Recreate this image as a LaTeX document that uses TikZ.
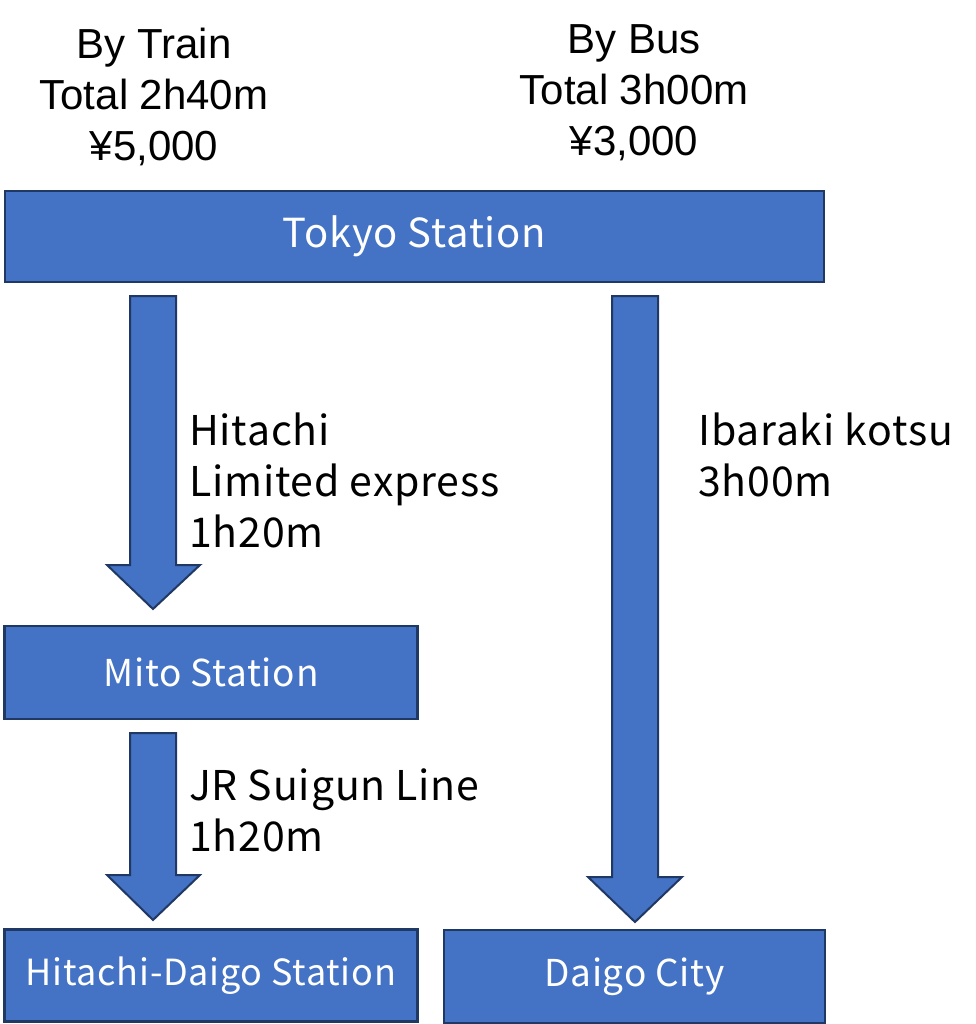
\documentclass[tikz,border=0pt]{standalone}
\usepackage{fontspec}
\setmainfont{Liberation Sans}
\newfontfamily\jpfont[LetterSpace=2]{Noto Sans CJK JP}
\definecolor{boxfill}{HTML}{4472C4}
\definecolor{boxline}{HTML}{203864}
\begin{document}
\begin{tikzpicture}[x=1pt,y=-1pt,
  stationbox/.style={draw=boxline,fill=boxfill,line width=2.5pt,inner sep=0pt,
    text=white,font=\jpfont\fontsize{40}{48}\selectfont},
  blockarrow/.style={draw=boxline,fill=boxfill,line width=2pt,line join=miter},
  routelabel/.style={anchor=base west,inner sep=0pt,align=left,
    font=\jpfont\fontsize{41}{51}\selectfont},
  titlelabel/.style={anchor=base,inner sep=0pt,align=center,
    font=\fontsize{42}{51}\selectfont}]
\useasboundingbox (0,0) rectangle (975,1024);
% titles (anchor = baseline of the last line)
\node[titlelabel] (ttrain) at (154,161) {By Train\\Total 2h40m\\¥5,000};
\node[titlelabel] (tbus) at (634,156) {By Bus\\Total 3h00m\\¥3,000};
% boxes
\node[stationbox,minimum width=819pt,minimum height=91pt] (tokyo) at (414.5,236.5) {Tokyo Station};
\node[stationbox,minimum width=413pt,minimum height=93pt,font=\jpfont\fontsize{37}{45}\selectfont] (mito) at (211,672.5) {Mito Station};
\node[stationbox,minimum width=413pt,minimum height=92pt,font=\jpfont\fontsize{36}{44}\selectfont] (hd) at (211,975.5) {Hitachi-Daigo Station};
\node[stationbox,minimum width=381pt,minimum height=93pt,font=\jpfont\fontsize{37}{45}\selectfont] (daigo) at (634.5,976.5) {Daigo City};
% arrows
\draw[blockarrow] (130,296) -- (176,296) -- (176,565) -- (200,565) -- (153,609)
  -- (107,565) -- (130,565) -- cycle;
\draw[blockarrow] (130,733) -- (176,733) -- (176,875) -- (200,875) -- (153,920)
  -- (107,875) -- (130,875) -- cycle;
\draw[blockarrow] (612,296) -- (658,296) -- (658,877) -- (682,877) -- (635,922)
  -- (588,877) -- (612,877) -- cycle;
% route labels (anchor = baseline of the last line)
\node[routelabel] (l1) at (189,547) {Hitachi\\Limited express\\1h20m};
\node[routelabel] (l2) at (189,851) {JR Suigun Line\\1h20m};
\node[routelabel] (l3) at (698,496) {Ibaraki kotsu\\3h00m};
\end{tikzpicture}
\end{document}
